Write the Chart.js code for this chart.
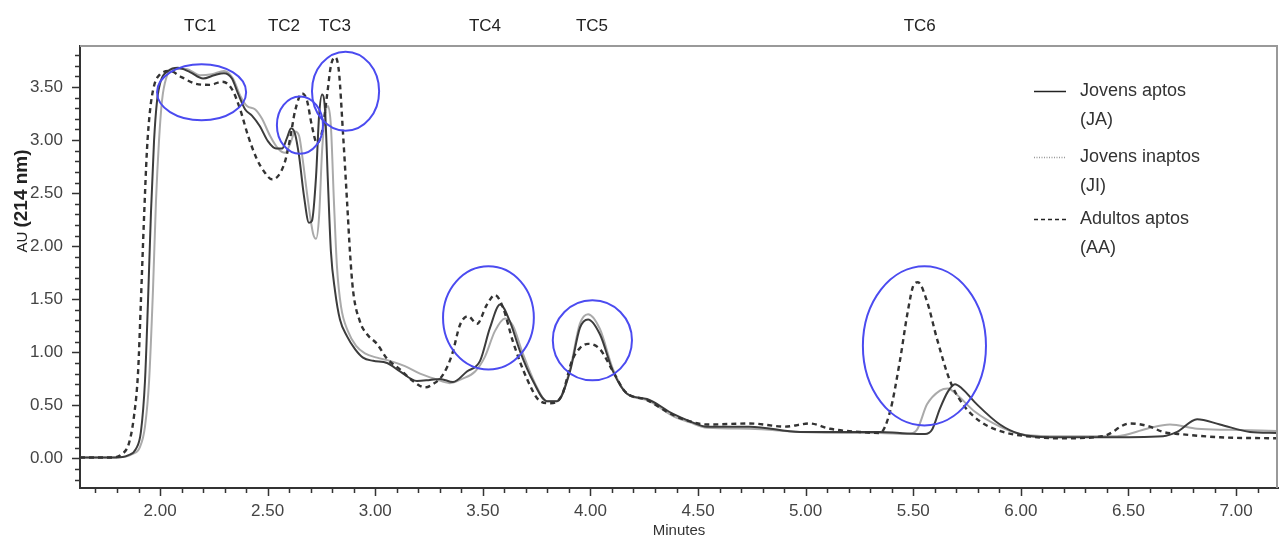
<!DOCTYPE html>
<html>
<head>
<meta charset="utf-8">
<script src="https://cdn.jsdelivr.net/npm/chart.js@4.4.1/dist/chart.umd.min.js"></script>
<style>
  html, body { margin: 0; padding: 0; background: #fff; }
  #wrap { width: 1279px; height: 540px; }
</style>
</head>
<body>
<div id="wrap"><canvas id="grafik" width="1279" height="540"></canvas></div>
<script>
// Jovens aptos (JA) - tempo (min) e absorbancia
var jaTime = [1.628, 1.791, 1.851, 1.888, 1.911, 1.930, 1.944, 1.958, 1.972, 1.986, 2.004, 2.037, 2.083, 2.139, 2.200, 2.251, 2.297, 2.334, 2.362, 2.395, 2.427, 2.464, 2.501, 2.539, 2.567, 2.590, 2.609, 2.627, 2.646, 2.669, 2.692, 2.706, 2.725, 2.739, 2.753, 2.767, 2.780, 2.794, 2.813, 2.836, 2.869, 2.906, 2.943, 2.990, 3.055, 3.115, 3.194, 3.254, 3.301, 3.361, 3.426, 3.487, 3.533, 3.580, 3.626, 3.673, 3.733, 3.798, 3.845, 3.905, 3.951, 3.989, 4.044, 4.105, 4.170, 4.263, 4.384, 4.463, 4.542, 4.741, 4.974, 5.206, 5.345, 5.438, 5.555, 5.587, 5.624, 5.661, 5.694, 5.726, 5.796, 5.903, 5.996, 6.135, 6.368, 6.661, 6.726, 6.819, 6.925, 7.065, 7.190];
var jaAU = [0.01, 0.01, 0.03, 0.09, 0.25, 0.73, 1.48, 2.33, 2.99, 3.37, 3.56, 3.65, 3.68, 3.64, 3.58, 3.61, 3.63, 3.58, 3.44, 3.29, 3.23, 3.13, 2.99, 2.92, 2.92, 3.02, 3.11, 3.06, 2.85, 2.47, 2.22, 2.24, 2.66, 3.23, 3.43, 3.27, 2.61, 1.95, 1.58, 1.31, 1.15, 1.03, 0.95, 0.92, 0.90, 0.82, 0.73, 0.74, 0.75, 0.72, 0.82, 0.92, 1.23, 1.45, 1.29, 1.01, 0.73, 0.54, 0.54, 0.82, 1.23, 1.31, 1.17, 0.82, 0.61, 0.56, 0.42, 0.35, 0.30, 0.30, 0.25, 0.25, 0.25, 0.24, 0.23, 0.27, 0.47, 0.63, 0.70, 0.66, 0.51, 0.32, 0.23, 0.20, 0.20, 0.21, 0.25, 0.37, 0.32, 0.25, 0.24];

// Jovens inaptos (JI)
var jiTime = [1.628, 1.805, 1.870, 1.907, 1.930, 1.949, 1.967, 1.981, 1.995, 2.009, 2.028, 2.065, 2.121, 2.186, 2.241, 2.297, 2.339, 2.372, 2.404, 2.441, 2.474, 2.511, 2.548, 2.581, 2.609, 2.627, 2.646, 2.664, 2.688, 2.711, 2.725, 2.739, 2.753, 2.767, 2.780, 2.794, 2.808, 2.822, 2.841, 2.873, 2.911, 2.952, 3.008, 3.068, 3.138, 3.208, 3.278, 3.347, 3.403, 3.464, 3.510, 3.556, 3.603, 3.640, 3.682, 3.742, 3.798, 3.845, 3.905, 3.951, 3.989, 4.044, 4.105, 4.170, 4.263, 4.384, 4.463, 4.542, 4.741, 4.974, 5.206, 5.345, 5.471, 5.517, 5.564, 5.624, 5.661, 5.703, 5.787, 5.903, 5.996, 6.135, 6.447, 6.586, 6.693, 6.819, 6.972, 7.190];
var jiAU = [0.01, 0.01, 0.04, 0.11, 0.30, 0.73, 1.58, 2.42, 2.99, 3.37, 3.58, 3.67, 3.67, 3.61, 3.62, 3.65, 3.58, 3.42, 3.32, 3.29, 3.20, 3.04, 2.92, 2.88, 2.99, 3.08, 3.04, 2.80, 2.42, 2.12, 2.07, 2.28, 2.90, 3.23, 3.32, 3.13, 2.42, 1.81, 1.43, 1.20, 1.06, 0.99, 0.95, 0.92, 0.87, 0.80, 0.75, 0.71, 0.75, 0.82, 0.96, 1.20, 1.32, 1.25, 1.01, 0.71, 0.54, 0.54, 0.84, 1.27, 1.36, 1.22, 0.84, 0.61, 0.55, 0.40, 0.34, 0.29, 0.28, 0.25, 0.24, 0.24, 0.23, 0.27, 0.51, 0.64, 0.66, 0.60, 0.44, 0.30, 0.23, 0.21, 0.21, 0.28, 0.32, 0.28, 0.27, 0.26];

// Adultos aptos (AA)
var aaTime = [1.628, 1.780, 1.822, 1.855, 1.879, 1.898, 1.911, 1.925, 1.939, 1.953, 1.972, 2.000, 2.046, 2.102, 2.167, 2.232, 2.288, 2.334, 2.372, 2.409, 2.450, 2.488, 2.520, 2.548, 2.581, 2.604, 2.627, 2.660, 2.683, 2.706, 2.729, 2.753, 2.776, 2.794, 2.813, 2.831, 2.850, 2.869, 2.883, 2.897, 2.929, 2.962, 3.008, 3.055, 3.115, 3.175, 3.231, 3.268, 3.315, 3.357, 3.394, 3.431, 3.473, 3.519, 3.556, 3.594, 3.640, 3.705, 3.766, 3.812, 3.868, 3.914, 3.951, 3.989, 4.044, 4.105, 4.161, 4.263, 4.384, 4.463, 4.542, 4.741, 4.904, 5.020, 5.113, 5.252, 5.345, 5.392, 5.438, 5.475, 5.503, 5.522, 5.564, 5.610, 5.671, 5.731, 5.810, 5.917, 6.028, 6.182, 6.382, 6.507, 6.600, 6.661, 6.740, 6.925, 7.190];
var aaAU = [0.01, 0.01, 0.04, 0.14, 0.40, 0.82, 1.48, 2.24, 2.90, 3.27, 3.51, 3.62, 3.65, 3.59, 3.53, 3.52, 3.55, 3.48, 3.29, 3.04, 2.82, 2.69, 2.63, 2.66, 2.80, 3.01, 3.27, 3.44, 3.37, 3.13, 2.97, 3.08, 3.42, 3.70, 3.78, 3.65, 3.07, 2.42, 1.93, 1.58, 1.29, 1.17, 1.08, 0.94, 0.84, 0.73, 0.67, 0.70, 0.79, 0.98, 1.26, 1.34, 1.27, 1.45, 1.54, 1.42, 1.10, 0.75, 0.54, 0.52, 0.60, 0.92, 1.04, 1.08, 1.03, 0.82, 0.63, 0.55, 0.41, 0.35, 0.32, 0.33, 0.30, 0.33, 0.28, 0.25, 0.24, 0.44, 0.92, 1.39, 1.64, 1.66, 1.48, 1.13, 0.73, 0.51, 0.35, 0.25, 0.21, 0.19, 0.21, 0.33, 0.30, 0.25, 0.23, 0.20, 0.19];

// Rotulos dos picos e elipses (centro em min / AU, raio em min / AU)
var picoNome = ["TC1", "TC2", "TC3", "TC4", "TC5", "TC6"];
var picoTempo = [2.186, 2.576, 2.813, 3.51, 4.007, 5.53];
var elipse = [
  { x: 2.193, y: 3.45, rx: 0.207, ry: 0.264 },
  { x: 2.650, y: 3.14, rx: 0.107, ry: 0.270 },
  { x: 2.862, y: 3.46, rx: 0.156, ry: 0.373 },
  { x: 3.526, y: 1.325, rx: 0.211, ry: 0.486 },
  { x: 4.009, y: 1.113, rx: 0.184, ry: 0.377 },
  { x: 5.552, y: 1.061, rx: 0.286, ry: 0.750 }
];

var legendaTexto = [["Jovens aptos", "(JA)"], ["Jovens inaptos", "(JI)"], ["Adultos aptos", "(AA)"]];

var FONTE = "'Liberation Sans', Arial, sans-serif";

function pontos(t, v) {
  return t.map(function (x, i) { return { x: x, y: v[i] }; });
}

// Plugin: moldura, marcas dos eixos, titulo do eixo y, rotulos TC, elipses e legenda
var extras = {
  id: "extras",
  afterDraw: function (chart) {
    var ctx = chart.ctx;
    var area = chart.chartArea;
    var xs = chart.scales.x;
    var ys = chart.scales.y;
    ctx.save();

    // moldura cinza (topo e direita)
    ctx.strokeStyle = "#999";
    ctx.lineWidth = 2;
    ctx.beginPath();
    ctx.moveTo(area.left, area.top);
    ctx.lineTo(area.right - 1, area.top);
    ctx.lineTo(area.right - 1, area.bottom);
    ctx.stroke();

    // marcas menores e maiores
    ctx.strokeStyle = "#333";
    ctx.lineWidth = 1.5;
    ctx.beginPath();
    for (var i = Math.ceil(ys.min * 10); i <= Math.floor(ys.max * 10); i++) {
      var py = Math.round(ys.getPixelForValue(i / 10)) + 0.5;
      var len = i % 5 === 0 ? 8 : 5;
      ctx.moveTo(area.left - len, py);
      ctx.lineTo(area.left, py);
    }
    for (var j = Math.ceil(xs.min * 10); j <= Math.floor(xs.max * 10); j++) {
      var px = Math.round(xs.getPixelForValue(j / 10)) + 0.5;
      var lx = j % 5 === 0 ? 8 : 5;
      ctx.moveTo(px, area.bottom);
      ctx.lineTo(px, area.bottom + lx);
    }
    ctx.stroke();

    // titulo do eixo y: "AU (214 nm)"
    ctx.save();
    ctx.translate(22, 201);
    ctx.rotate(-Math.PI / 2);
    ctx.fillStyle = "#222";
    ctx.textBaseline = "middle";
    ctx.font = "15px " + FONTE;
    var w1 = ctx.measureText("AU ").width;
    ctx.font = "bold 19px " + FONTE;
    var w2 = ctx.measureText("(214 nm)").width;
    var x0 = -(w1 + w2) / 2;
    ctx.font = "15px " + FONTE;
    ctx.textAlign = "left";
    ctx.fillText("AU ", x0, 1);
    ctx.font = "bold 19px " + FONTE;
    ctx.fillText("(214 nm)", x0 + w1, 0);
    ctx.restore();

    // rotulos dos picos
    ctx.fillStyle = "#222";
    ctx.font = "17px " + FONTE;
    ctx.textAlign = "center";
    ctx.textBaseline = "middle";
    picoNome.forEach(function (nome, k) {
      ctx.fillText(nome, xs.getPixelForValue(picoTempo[k]), area.top - 20);
    });

    // elipses azuis
    ctx.strokeStyle = "#4b4bf0";
    ctx.lineWidth = 2;
    elipse.forEach(function (e) {
      var cx = xs.getPixelForValue(e.x);
      var cy = ys.getPixelForValue(e.y);
      var rx = xs.getPixelForValue(e.x + e.rx) - cx;
      var ry = cy - ys.getPixelForValue(e.y + e.ry);
      ctx.beginPath();
      ctx.ellipse(cx, cy, rx, ry, 0, 0, Math.PI * 2);
      ctx.stroke();
    });

    // legenda
    var linhaY = [91, 157, 219];
    ctx.font = "18px " + FONTE;
    ctx.textAlign = "left";
    chart.data.datasets.forEach(function (ds, k) {
      var y = linhaY[k];
      ctx.strokeStyle = ds.legendColor;
      ctx.lineWidth = ds.legendWidth;
      ctx.setLineDash(ds.legendDash);
      ctx.beginPath();
      ctx.moveTo(1034, y + 0.5);
      ctx.lineTo(1066, y + 0.5);
      ctx.stroke();
      ctx.setLineDash([]);
      ctx.fillStyle = "#333";
      ctx.fillText(legendaTexto[k][0], 1080, y);
      ctx.fillText(legendaTexto[k][1], 1080, y + 29);
    });

    ctx.restore();
  }
};

var dados = {
  datasets: [
    {
      label: "Jovens aptos (JA)",
      data: pontos(jaTime, jaAU),
      borderColor: "#3c3c3c",
      borderWidth: 2,
      legendColor: "#222",
      legendWidth: 1.5,
      legendDash: [],
      order: 2
    },
    {
      label: "Jovens inaptos (JI)",
      data: pontos(jiTime, jiAU),
      borderColor: "#aaaaaa",
      borderWidth: 2,
      legendColor: "#999",
      legendWidth: 1.5,
      legendDash: [1, 1.5],
      order: 3
    },
    {
      label: "Adultos aptos (AA)",
      data: pontos(aaTime, aaAU),
      borderColor: "#333333",
      borderWidth: 2.4,
      borderDash: [5, 4],
      legendColor: "#222",
      legendWidth: 1.5,
      legendDash: [4, 3],
      order: 1
    }
  ]
};

var config = {
  type: "line",
  data: dados,
  options: {
    responsive: false,
    animation: false,
    devicePixelRatio: 1,
    layout: { padding: { top: 46, right: 1, left: 0, bottom: 0 } },
    elements: {
      point: { radius: 0 },
      line: { cubicInterpolationMode: "monotone", fill: false }
    },
    plugins: {
      legend: { display: false },
      tooltip: { enabled: false }
    },
    scales: {
      x: {
        type: "linear",
        min: 1.628,
        max: 7.195,
        afterFit: function (s) { s.height = 52; },
        grid: { display: false },
        border: { display: true, color: "#333", width: 2 },
        ticks: {
          stepSize: 0.5,
          includeBounds: false,
          padding: 5,
          color: "#444",
          font: { family: FONTE, size: 17 },
          maxRotation: 0,
          callback: function (v) { return v.toFixed(2); }
        },
        title: {
          display: true,
          text: "Minutes",
          color: "#333",
          font: { family: FONTE, size: 15 },
          padding: { top: 0, bottom: 0 }
        }
      },
      y: {
        type: "linear",
        min: -0.278,
        max: 3.886,
        afterFit: function (s) { s.width = 80; },
        grid: { display: false },
        border: { display: true, color: "#333", width: 2 },
        ticks: {
          stepSize: 0.5,
          includeBounds: false,
          padding: 9,
          color: "#444",
          font: { family: FONTE, size: 17 },
          callback: function (v) { return v.toFixed(2); }
        }
      }
    }
  },
  plugins: [extras]
};

var grafik = document.getElementById("grafik").getContext("2d");
var kromatograma = new Chart(grafik, config);
</script>
</body>
</html>
